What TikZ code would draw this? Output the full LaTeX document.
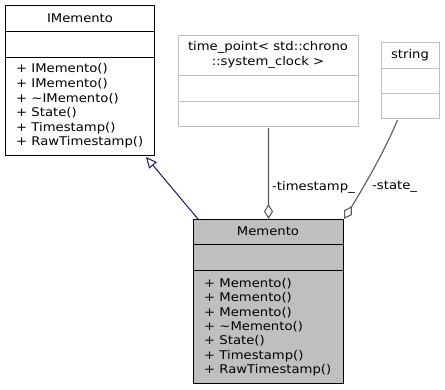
\documentclass[tikz,border=0pt]{standalone}
\usepackage{fontspec}
\setmainfont{DejaVu Sans}[FakeStretch=1.1]
\usetikzlibrary{arrows.meta}
\definecolor{edgegray}{HTML}{5A5A5A}
\definecolor{framegray}{HTML}{BFBFBF}
\definecolor{classfill}{HTML}{BFBFBF}
\definecolor{inhblue}{HTML}{191970}
\begin{document}
\begin{tikzpicture}[x=1bp,y=-1bp,
  font=\fontsize{12bp}{14.4bp}\selectfont,
  classbox/.style={draw=black, line width=1bp, inner sep=0pt, anchor=north west},
  extbox/.style={draw=framegray, line width=1bp, inner sep=0pt, anchor=north west},
  divider/.style={line width=1bp},
  title/.style={inner sep=0pt, align=center},
  members/.style={inner sep=0pt, align=left, anchor=north west},
  elabel/.style={inner sep=0pt, anchor=west},
  inherit/.style={draw=inhblue, line width=1bp, -{Triangle[open, length=11bp, width=10bp]}},
  aggregate/.style={draw=edgegray, line width=1.1bp, -{Diamond[open, length=15bp, width=9bp]}}]
\useasboundingbox (0,0) rectangle (445,389);

% base interface
\node[classbox, minimum width=149bp, minimum height=150bp] (imem) at (5,5) {};
\draw[divider] ([yshift=-26bp]imem.north west) -- ([yshift=-26bp]imem.north east);
\draw[divider] ([yshift=-52bp]imem.north west) -- ([yshift=-52bp]imem.north east);
\node[title] (imemtitle) at (80,18) {IMemento};
\node[members, font=\fontsize{12bp}{14.6bp}\selectfont] (imemops) at (16,63.5)
  {+ IMemento()\\+ IMemento()\\+ \textasciitilde IMemento()\\+ State()\\+ Timestamp()\\+ RawTimestamp()};

% time point type
\node[extbox, minimum width=180bp, minimum height=91bp] (tp) at (178,35) {};
\draw[divider, framegray] ([yshift=-40bp]tp.north west) -- ([yshift=-40bp]tp.north east);
\draw[divider, framegray] ([yshift=-66bp]tp.north west) -- ([yshift=-66bp]tp.north east);
\node[title, font=\fontsize{12bp}{15bp}\selectfont] (tptitle) at (268,54.5)
  {time\_point< std::chrono\\::system\_clock >};

% string type
\node[extbox, minimum width=58bp, minimum height=76bp] (str) at (381,42) {};
\draw[divider, framegray] ([yshift=-26bp]str.north west) -- ([yshift=-26bp]str.north east);
\draw[divider, framegray] ([yshift=-51bp]str.north west) -- ([yshift=-51bp]str.north east);
\node[title] (strtitle) at (410,55) {string};

% concrete memento
\node[classbox, fill=classfill, minimum width=150bp, minimum height=164bp] (mem) at (193,219) {};
\draw[divider] ([yshift=-25bp]mem.north west) -- ([yshift=-25bp]mem.north east);
\draw[divider] ([yshift=-51bp]mem.north west) -- ([yshift=-51bp]mem.north east);
\node[title] (memtitle) at (268,231) {Memento};
\node[members, font=\fontsize{12bp}{14.3bp}\selectfont] (memops) at (204,278.3)
  {+ Memento()\\+ Memento()\\+ Memento()\\+ \textasciitilde Memento()\\+ State()\\+ Timestamp()\\+ RawTimestamp()};

% relations
\draw[inherit] ([xshift=5bp]mem.north west) -- ([xshift=-9bp, yshift=-1bp]imem.south east);
\draw[aggregate] ([yshift=-1bp]tp.south) -- (mem.north);
\draw[aggregate] ([xshift=-13bp, yshift=-1bp]str.south) .. controls (385,150) and (365,185) .. (mem.north east);
\node[elabel] (tslabel) at (272,187) {-timestamp\_};
\node[elabel] (stlabel) at (372,187) {-state\_};
\end{tikzpicture}
\end{document}
